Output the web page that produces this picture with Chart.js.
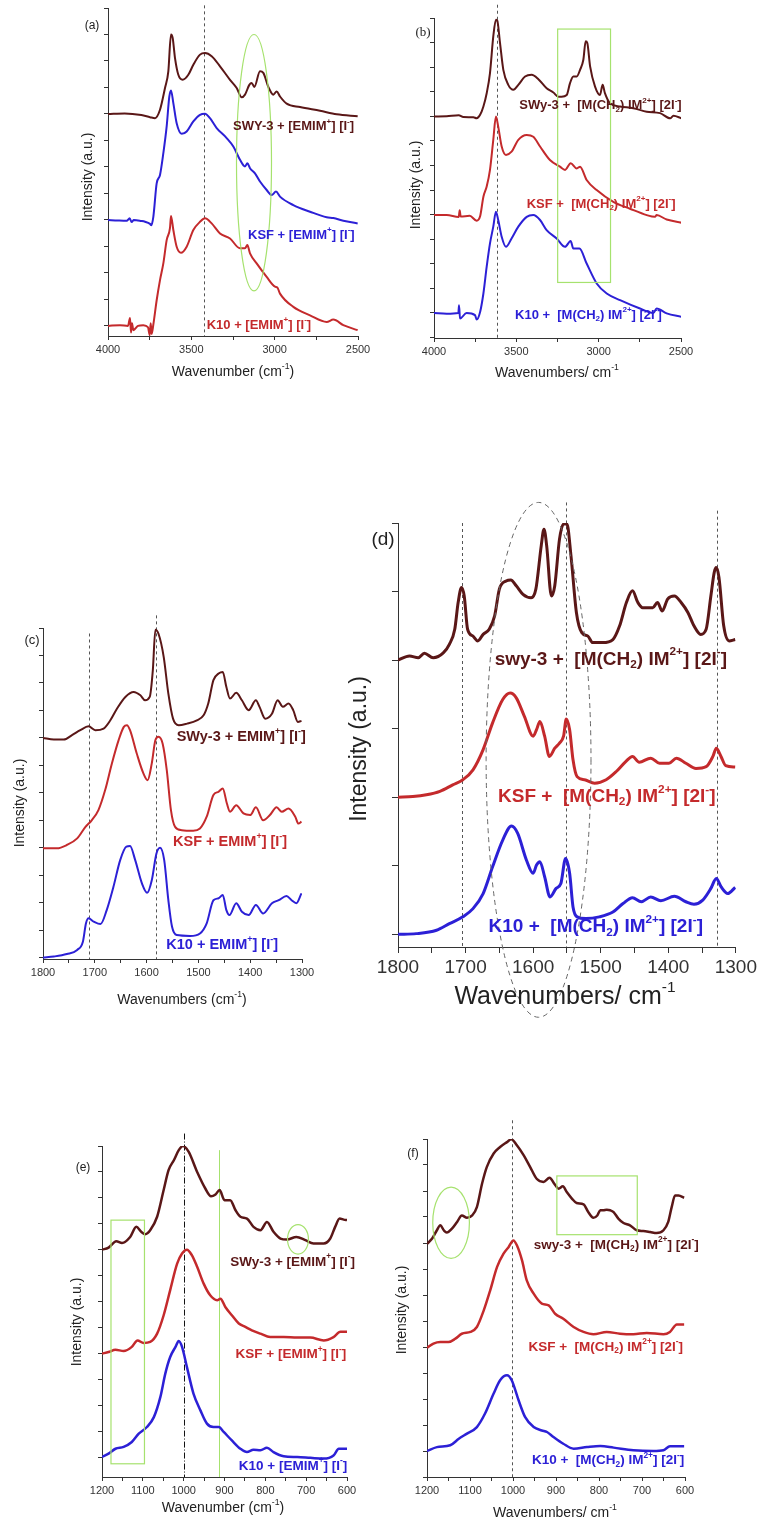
<!DOCTYPE html>
<html>
<head>
<meta charset="utf-8">
<script src="https://cdn.jsdelivr.net/npm/chart.js@4.4.1/dist/chart.umd.min.js"></script>
<style>
  html, body { margin: 0; padding: 0; background: #fff; }
  #page { position: relative; width: 762px; height: 1522px; overflow: hidden; }
  canvas { position: absolute; }
</style>
</head>
<body>
<div id="page"></div>
<script>
// ---- panel (a): 4000-2500 cm-1, EMIM ----
const aSwyX = [4000,3900,3800,3748,3718,3688,3658,3638,3622,3612,3598,3578,3552,3518,3488,3448,3418,3378,3328,3268,3228,3198,3178,3152,3138,3122,3088,3068,3038,3008,2988,2968,2928,2848,2728,2628,2502]
const aSwyY = [8.0,8.02,7.96,7.88,7.84,8.16,8.98,9.61,11.0,10.87,10.11,9.48,9.29,9.48,9.86,10.24,10.30,10.18,9.80,9.29,8.98,8.63,8.73,9.1,9.17,9.02,9.61,9.55,9.02,8.73,8.85,8.66,8.39,8.26,8.12,7.99,7.91]
const aKsfX = [4000,3940,3888,3870,3858,3845,3800,3778,3748,3740,3728,3708,3688,3668,3648,3632,3622,3608,3588,3558,3528,3488,3448,3418,3388,3348,3288,3248,3208,3178,3164,3148,3118,3088,3048,3018,2992,2968,2888,2788,2688,2648,2588,2502]
const aKsfY = [4.0,3.98,3.97,4.06,3.92,4.0,3.96,3.93,3.85,3.8,4.12,5.38,5.70,6.52,7.53,8.66,8.89,8.41,7.65,7.25,7.34,7.72,7.97,8.01,7.84,7.47,7.09,6.77,6.27,6.02,6.14,5.95,5.76,5.45,5.13,4.94,5.07,4.88,4.56,4.31,4.10,4.07,3.97,3.87]
const aK10X = [4000,3928,3880,3868,3862,3856,3848,3820,3788,3760,3750,3744,3738,3728,3708,3688,3668,3648,3628,3622,3608,3588,3562,3528,3488,3448,3418,3378,3328,3268,3208,3178,3164,3148,3108,3048,2998,2984,2968,2888,2788,2688,2648,2588,2502]
const aK10Y = [0,0.03,0,0.3,-0.25,0.1,-0.16,0,0.03,-0.05,-0.35,0.1,-0.3,0.05,0.97,1.73,2.36,3.24,3.7,4.15,3.62,2.99,2.76,2.99,3.62,3.93,4.06,3.87,3.49,3.30,2.93,2.93,3.05,2.74,2.36,1.85,1.48,1.45,1.22,0.72,0.40,0.15,0.24,0.03,-0.16]

// ---- panel (b): 4000-2500 cm-1, M(CH2)IM ----
const bSwyX = [4000,3923,3850,3822,3761,3741,3720,3700,3680,3660,3640,3624,3616,3599,3579,3549,3518,3488,3447,3407,3366,3316,3275,3245,3225,3194,3174,3154,3133,3113,3093,3079,3069,3052,3022,2992,2976,2962,2931,2870,2789,2708,2627,2566,2546,2497]
const bSwyY = [7.99,8.0,8.04,7.97,7.96,7.92,8.06,8.40,8.94,9.76,11.25,11.93,11.9,10.98,9.89,9.28,9.08,9.28,9.62,9.69,9.51,9.14,8.97,8.80,8.80,8.87,9.35,9.62,9.62,9.89,10.30,11.05,10.98,10.03,9.21,8.87,9.28,8.94,8.53,8.40,8.33,8.19,8.13,7.92,8.02,7.92]
const bKsfX = [4000,3923,3850,3844,3838,3783,3741,3720,3700,3680,3660,3640,3624,3610,3589,3563,3529,3488,3437,3397,3356,3296,3235,3204,3170,3133,3113,3073,3012,2911,2810,2708,2658,2648,2587,2497]
const bKsfY = [3.98,3.98,3.9,4.18,3.92,3.95,3.75,3.93,4.73,5.14,5.82,7.04,7.99,7.58,6.77,6.43,6.56,7.04,7.24,7.17,6.77,6.22,5.95,5.82,6.09,5.88,5.95,5.41,5.0,4.52,4.24,3.98,3.91,3.98,3.80,3.67]
const bK10X = [4000,3923,3852,3848,3842,3802,3751,3741,3720,3700,3680,3660,3640,3624,3610,3589,3563,3529,3488,3437,3397,3356,3316,3255,3204,3170,3154,3117,3073,3012,2951,2870,2749,2668,2648,2587,2497]
const bK10Y = [0,-0.03,0,0.31,-0.23,0,-0.09,-0.27,0.04,0.79,1.88,2.83,3.51,4.12,3.78,3.10,2.69,3.03,3.51,3.91,3.98,3.78,3.37,3.03,2.69,2.93,2.62,2.62,2.01,1.20,0.79,0.52,0.18,0,0.18,-0.02,-0.16]

// ---- panel (c): 1800-1300 cm-1, EMIM ----
const cSwyX = [1800,1779,1760,1744,1728,1712,1699,1683,1670,1657,1641,1625,1612,1603,1594,1588,1583,1577,1567,1558,1549,1538,1522,1503,1490,1481,1471,1461,1453,1446,1439,1427,1416,1403,1389,1382,1371,1358,1347,1337,1326,1317,1308,1301]
const cSwyY = [8.0,7.94,7.94,8.10,8.28,8.42,8.28,8.34,8.64,9.07,9.49,9.67,9.55,9.37,9.49,10.46,11.94,11.79,10.95,9.61,8.70,8.46,8.52,8.64,8.82,9.25,10.10,10.34,10.40,9.85,9.43,9.64,9.37,9.01,9.37,9.13,8.70,8.88,9.37,9.13,9.25,9.01,8.58,8.62]
const cKsfX = [1800,1773,1754,1734,1718,1706,1693,1680,1667,1654,1644,1638,1632,1619,1606,1598,1590,1583,1577,1569,1561,1553,1545,1532,1510,1497,1484,1471,1461,1453,1445,1439,1427,1413,1400,1389,1375,1362,1349,1339,1326,1313,1307,1301]
const cKsfY = [3.98,3.98,4.10,4.34,4.76,5.0,5.37,6.10,7.07,7.92,8.40,8.46,8.28,7.43,6.70,6.46,7.07,7.92,8.04,7.79,6.82,5.37,4.76,4.64,4.62,4.70,5.13,5.92,6.04,6.16,5.61,5.31,5.55,5.25,5.19,5.47,5.0,5.19,5.47,5.31,5.43,5.13,4.88,4.95]
const cK10X = [1800,1779,1754,1734,1723,1717,1712,1702,1689,1677,1664,1651,1639,1632,1622,1609,1599,1590,1581,1574,1566,1558,1551,1542,1516,1497,1484,1471,1461,1453,1446,1440,1427,1416,1403,1389,1375,1358,1345,1330,1320,1311,1301]
const cK10Y = [0,0.04,0.13,0.28,0.58,1.25,1.43,1.31,1.22,1.73,2.58,3.55,4.04,4.06,3.55,2.70,2.36,2.82,3.79,4.0,3.55,2.09,1.13,0.82,0.79,0.88,1.25,2.09,2.16,2.28,1.73,1.55,1.98,1.67,1.55,1.92,1.61,1.98,2.09,2.24,2.09,1.98,2.34]

// ---- panel (d): 1800-1300 cm-1, M(CH2)IM ----
const dSwyX = [1800,1783,1770,1761,1748,1733,1724,1716,1711,1706,1702,1697,1689,1682,1674,1665,1657,1650,1640,1633,1625,1615,1603,1596,1588,1584,1580,1573,1568,1561,1555,1550,1544,1536,1528,1519,1512,1497,1482,1472,1462,1453,1445,1438,1423,1416,1409,1401,1391,1381,1371,1362,1352,1344,1337,1332,1329,1325,1318,1310,1301]
const dSwyY = [8.0,8.12,8.07,8.20,8.07,8.21,8.46,8.90,9.68,10.12,9.87,8.90,8.70,8.56,8.75,8.90,9.29,10.07,10.31,10.34,10.17,9.92,9.82,10.07,11.34,11.82,11.34,9.87,10.17,11.53,11.97,11.97,11.04,9.39,8.80,8.70,8.51,8.51,8.60,9.0,9.68,10.02,9.68,9.53,9.53,9.68,9.43,9.78,9.87,9.68,9.39,9.0,8.75,8.90,9.87,10.56,10.70,10.41,9.0,8.56,8.60]
const dKsfX = [1800,1778,1758,1738,1719,1704,1689,1674,1660,1645,1634,1625,1613,1600,1595,1590,1583,1576,1568,1561,1555,1551,1546,1541,1535,1524,1509,1492,1477,1463,1453,1443,1426,1413,1399,1388,1374,1359,1344,1334,1329,1322,1315,1301]
const dKsfY = [4.0,4.02,4.07,4.17,4.36,4.51,4.80,5.39,6.17,6.85,7.04,6.90,6.36,5.78,5.97,6.21,5.78,5.19,5.43,5.58,5.78,6.28,5.97,5.09,4.60,4.51,4.41,4.51,4.75,5.04,5.19,5.02,5.14,4.99,4.99,5.14,4.99,4.84,4.89,5.19,5.43,5.19,4.92,4.88]
const dK10X = [1800,1773,1743,1724,1704,1689,1674,1660,1645,1632,1623,1610,1600,1595,1590,1583,1575,1566,1559,1552,1546,1541,1535,1522,1502,1482,1467,1453,1440,1426,1411,1391,1374,1362,1349,1337,1329,1322,1312,1301]
const dK10Y = [0,0.02,0.12,0.31,0.51,0.75,1.19,1.97,2.75,3.16,2.95,2.17,1.78,2.02,2.12,1.68,1.09,1.34,1.48,2.21,1.78,0.80,0.51,0.46,0.51,0.65,0.90,1.07,0.95,1.09,0.98,1.11,0.95,0.88,1.0,1.34,1.63,1.39,1.19,1.37]

// ---- panel (e): 1200-600 cm-1, EMIM ----
const eSwyX = [1200,1184,1165,1151,1131,1116,1104,1094,1082,1065,1049,1037,1024,1012,1002,988,967,947,933,922,912,900,886,873,861,845,829,812,796,780,763,747,724,702,682,657,641,629,618,608,600]
const eSwyY = [8.0,8.08,8.33,8.26,8.49,8.88,8.69,8.60,8.75,9.27,10.30,11.07,11.45,11.84,12.0,11.78,11.0,10.36,10.06,10.13,10.30,9.91,9.91,9.52,9.27,9.20,8.88,8.75,9.07,8.69,8.43,8.39,8.49,8.37,8.24,8.24,8.43,8.88,9.20,9.16,9.14]
const eKsfX = [1200,1184,1167,1147,1127,1113,1098,1082,1065,1049,1033,1016,1004,992,980,967,951,935,918,910,898,882,865,849,833,812,788,755,722,690,657,633,616,600]
const eKsfY = [3.99,4.05,4.14,4.09,4.25,4.50,4.40,4.44,4.76,5.47,6.44,7.46,7.85,8.0,7.79,7.34,6.69,6.24,6.05,6.11,5.79,5.47,5.15,5.02,4.89,4.76,4.63,4.63,4.61,4.61,4.50,4.63,4.83,4.83]
const eK10X = [1200,1184,1167,1147,1127,1110,1090,1073,1057,1045,1033,1020,1012,1004,992,976,959,943,927,914,902,882,861,845,829,812,796,780,755,722,690,657,633,620,600]
const eK10Y = [0,0.13,0.32,0.39,0.58,0.90,1.16,1.54,2.32,3.22,3.86,4.25,4.48,4.25,3.47,2.45,1.80,1.29,1.16,1.16,0.97,0.64,0.32,0.19,0.28,0.26,0.36,0.19,0.03,0,-0.03,-0.06,0.06,0.32,0.32]

// ---- panel (f): 1200-600 cm-1, M(CH2)IM ----
const fSwyX = [1200,1188,1177,1169,1161,1154,1142,1130,1119,1107,1095,1084,1072,1061,1045,1030,1014,1004,991,975,960,945,929,915,904,894,884,875,863,852,836,825,813,804,797,790,782,774,766,755,743,728,712,697,681,666,650,639,631,623,615,602]
const fSwyY = [7.97,8.17,8.49,8.68,8.49,8.40,8.55,8.81,9.06,8.97,9.06,9.38,10.28,10.92,11.44,11.69,11.88,11.99,11.76,11.37,10.92,10.47,10.35,10.51,10.28,10.09,10.18,9.96,9.71,9.54,9.49,9.19,8.97,9.06,9.26,9.26,9.28,9.26,9.19,8.94,8.77,8.68,8.49,8.46,8.42,8.38,8.49,8.81,9.38,9.83,9.83,9.74]
const fKsfX = [1200,1185,1169,1150,1134,1119,1099,1084,1068,1053,1037,1022,1010,999,991,979,968,952,933,917,902,883,859,836,813,782,751,720,689,650,635,619,602]
const fKsfY = [3.97,4.13,4.19,4.19,4.32,4.51,4.58,4.77,5.41,6.18,7.08,7.59,7.85,8.10,7.91,7.33,6.56,6.05,5.67,5.60,5.28,5.09,4.77,4.58,4.49,4.58,4.51,4.49,4.54,4.49,4.58,4.87,4.87]
const fK10X = [1200,1177,1146,1126,1107,1084,1065,1045,1030,1014,1003,987,972,952,933,921,906,883,859,828,797,766,720,674,650,635,602]
const fK10Y = [0,0.15,0.22,0.47,0.67,0.92,1.44,2.21,2.72,2.91,2.72,1.95,1.31,0.92,0.79,0.73,0.54,0.28,0.09,0.15,0.19,0.13,0.03,0,0.03,0.18,0.18]

const SANS = '"Liberation Sans", Arial, Helvetica, sans-serif'
const SERIF = '"Liberation Serif", "Times New Roman", serif'
const BROWN = '#5a1717', RED = '#c42a2c', BLUE = '#2c20d6'
const GREEN = '#a6e26e', GREY = '#555', AXIS = '#333'

const EMIM = ' + [EMIM^{+}] [I^{-}]'
const MIM = ' +  [M(CH_{2}) IM^{2+}] [2I^{-}]'

// text with ^{..} superscripts and _{..} subscripts
function parseRich(s) {
    const out = []
    const re = /(\^|_)\{([^}]*)\}/g
    let last = 0, m
    while ((m = re.exec(s))) {
        if (m.index > last) out.push({ t: s.slice(last, m.index), mode: 0 })
        out.push({ t: m[2], mode: m[1] === '^' ? 1 : -1 })
        last = re.lastIndex
    }
    if (last < s.length) out.push({ t: s.slice(last), mode: 0 })
    return out
}

function drawRich(ctx, s, x, y, size, weight, color, align) {
    const segs = parseRich(s)
    const font = sz => weight + ' ' + sz + 'px ' + SANS
    let w = 0
    segs.forEach(g => {
        ctx.font = font(g.mode ? size * 0.62 : size)
        g.w = ctx.measureText(g.t).width
        w += g.w
    })
    let cx = align === 'center' ? x - w / 2 : x
    ctx.fillStyle = color
    ctx.textAlign = 'left'
    ctx.textBaseline = 'middle'
    segs.forEach(g => {
        ctx.font = font(g.mode ? size * 0.62 : size)
        const dy = g.mode === 1 ? -size * 0.38 : (g.mode === -1 ? size * 0.3 : 0)
        ctx.fillText(g.t, cx, y + dy)
        cx += g.w
    })
}

function annotations(p) {
    return {
        id: 'annot_' + p.id,
        beforeDatasetsDraw(chart) {
            const ctx = chart.ctx, area = chart.chartArea
            const X = v => chart.scales.x.getPixelForValue(v)
            const Y = v => chart.scales.y.getPixelForValue(v)
            ctx.save()
            ;(p.vlines || []).forEach(l => {
                ctx.beginPath()
                ctx.setLineDash(l.dash || [3, 3])
                ctx.strokeStyle = l.color || GREY
                ctx.lineWidth = 1
                const x = Math.round(X(l.x)) + 0.5
                ctx.moveTo(x, Y(l.top))
                ctx.lineTo(x, area.bottom)
                ctx.stroke()
            })
            ctx.restore()
        },
        afterDraw(chart) {
            const ctx = chart.ctx
            const X = v => chart.scales.x.getPixelForValue(v)
            const Y = v => chart.scales.y.getPixelForValue(v)
            const ox = p.canvas.x, oy = p.canvas.y
            ctx.save()
            ;(p.rects || []).forEach(r => {
                ctx.setLineDash([])
                ctx.strokeStyle = GREEN
                ctx.lineWidth = 1.2
                ctx.strokeRect(X(r.x1), Y(r.y1), X(r.x2) - X(r.x1), Y(r.y2) - Y(r.y1))
            })
            ;(p.ellipses || []).forEach(e => {
                ctx.beginPath()
                ctx.setLineDash(e.dash || [])
                ctx.strokeStyle = e.color || GREEN
                ctx.lineWidth = e.width || 1.2
                ctx.ellipse(X(e.cx), Y(e.cy), Math.abs(X(e.cx + e.rx) - X(e.cx)),
                    Math.abs(Y(e.cy + e.ry) - Y(e.cy)), 0, 0, Math.PI * 2)
                ctx.stroke()
            })
            ctx.setLineDash([])
            p.labels.forEach(l => drawRich(ctx, l.t, X(l.x), Y(l.y), p.labelSize, 'bold', l.c, 'left'))

            // panel letter
            ctx.fillStyle = '#222'
            ctx.textAlign = 'center'
            ctx.textBaseline = 'middle'
            ctx.font = p.letter.size + 'px ' + (p.letter.serif ? SERIF : SANS)
            ctx.fillText(p.letter.t, p.letter.x - ox, p.letter.y - oy)

            // axis titles
            ctx.save()
            ctx.translate(p.yTitle.x - ox, p.yTitle.y - oy)
            ctx.rotate(-Math.PI / 2)
            ctx.font = p.yTitle.size + 'px ' + SANS
            ctx.fillText('Intensity (a.u.)', 0, 0)
            ctx.restore()
            drawRich(ctx, p.xTitle.t, p.xTitle.x - ox, p.xTitle.y - oy, p.xTitle.size, 'normal', '#222', 'center')
            ctx.restore()
        }
    }
}

function makePanel(p) {
    const c = p.canvas
    const cv = document.createElement('canvas')
    cv.width = c.w
    cv.height = c.h
    cv.style.left = c.x + 'px'
    cv.style.top = c.y + 'px'
    cv.style.width = c.w + 'px'
    cv.style.height = c.h + 'px'
    document.getElementById('page').appendChild(cv)

    const yW = p.box.l - c.x
    const padT = p.box.t - c.y
    const padR = c.x + c.w - p.box.r
    const xH = c.y + c.h - p.box.b

    const datasets = p.series.map(s => ({
        data: s.x.map((x, i) => ({ x: x, y: s.y[i] })),
        borderColor: s.color,
        borderWidth: p.lw,
        pointRadius: 0,
        fill: false,
        cubicInterpolationMode: 'monotone'
    }))

    return new Chart(cv, {
        type: 'line',
        data: { datasets: datasets },
        options: {
            responsive: false,
            animation: false,
            devicePixelRatio: 1,
            layout: { padding: { left: 0, top: padT, right: padR, bottom: 0 } },
            plugins: { legend: { display: false }, tooltip: { enabled: false } },
            scales: {
                x: {
                    type: 'linear', reverse: true, min: p.xMin, max: p.xMax,
                    border: { display: true, color: AXIS, width: 1 },
                    grid: { drawOnChartArea: false, drawTicks: true, tickLength: p.tickLen, color: AXIS },
                    ticks: {
                        stepSize: p.xStep, autoSkip: false, maxRotation: 0, minRotation: 0,
                        includeBounds: false, padding: 3, color: '#333',
                        font: { family: SANS, size: p.tickSize },
                        callback: v => (Math.round(v) % p.xLabelStep === 0 ? String(Math.round(v)) : '')
                    },
                    afterFit: s => { s.height = xH }
                },
                y: {
                    type: 'linear', min: p.yMin, max: p.yMax,
                    border: { display: true, color: AXIS, width: 1 },
                    grid: { drawOnChartArea: false, drawTicks: true, tickLength: p.tickLen, color: AXIS },
                    ticks: { display: false, stepSize: p.yStep, includeBounds: false },
                    afterFit: s => { s.width = yW }
                }
            }
        },
        plugins: [annotations(p)]
    })
}

const panels = [
    {
        id: 'a', canvas: { x: 50, y: 0, w: 355, h: 395 }, box: { l: 108, r: 358, t: 8, b: 336 },
        xMin: 2500, xMax: 4000, xStep: 250, xLabelStep: 500, yMin: -0.38, yMax: 12, yStep: 1,
        lw: 2, tickLen: 4, tickSize: 11, labelSize: 13,
        series: [
            { x: aSwyX, y: aSwyY, color: BROWN },
            { x: aKsfX, y: aKsfY, color: BLUE },
            { x: aK10X, y: aK10Y, color: RED }
        ],
        vlines: [{ x: 3425, top: 12.1 }],
        ellipses: [{ cx: 3124, cy: 6.16, rx: 105, ry: 4.84 }],
        labels: [
            { t: 'SWY-3' + EMIM, x: 3250, y: 7.52, c: BROWN },
            { t: 'KSF' + EMIM, x: 3160, y: 3.43, c: BLUE },
            { t: 'K10' + EMIM, x: 3408, y: 0.03, c: RED }
        ],
        letter: { t: '(a)', x: 92, y: 26, size: 12 },
        yTitle: { x: 88, y: 177, size: 14 },
        xTitle: { t: 'Wavenumber (cm^{-1})', x: 233, y: 372, size: 14 }
    },
    {
        id: 'b', canvas: { x: 395, y: 0, w: 320, h: 395 }, box: { l: 434, r: 681, t: 18, b: 338 },
        xMin: 2500, xMax: 4000, xStep: 250, xLabelStep: 500, yMin: -1.02, yMax: 12, yStep: 1,
        lw: 2, tickLen: 4, tickSize: 11, labelSize: 13,
        series: [
            { x: bSwyX, y: bSwyY, color: BROWN },
            { x: bKsfX, y: bKsfY, color: RED },
            { x: bK10X, y: bK10Y, color: BLUE }
        ],
        vlines: [{ x: 3620, top: 12.54 }],
        rects: [{ x1: 3249, x2: 2928, y1: 11.55, y2: 1.24 }],
        labels: [
            { t: 'SWy-3' + MIM, x: 3482, y: 8.43, c: BROWN },
            { t: 'KSF' + MIM, x: 3437, y: 4.43, c: RED },
            { t: 'K10' + MIM, x: 3508, y: -0.09, c: BLUE }
        ],
        letter: { t: '(b)', x: 423, y: 33, size: 13, serif: true },
        yTitle: { x: 416, y: 185, size: 14 },
        xTitle: { t: 'Wavenumbers/ cm^{-1}', x: 557, y: 373, size: 14 }
    },
    {
        id: 'c', canvas: { x: 0, y: 600, w: 330, h: 420 }, box: { l: 43, r: 302, t: 628, b: 959 },
        xMin: 1300, xMax: 1800, xStep: 50, xLabelStep: 100, yMin: -0.05, yMax: 12, yStep: 1,
        lw: 2, tickLen: 4, tickSize: 11, labelSize: 14.5,
        series: [
            { x: cSwyX, y: cSwyY, color: BROWN },
            { x: cKsfX, y: cKsfY, color: RED },
            { x: cK10X, y: cK10Y, color: BLUE }
        ],
        vlines: [{ x: 1712, top: 11.8 }, { x: 1582, top: 12.46 }],
        labels: [
            { t: 'SWy-3 + EMIM^{+}] [I^{-}]', x: 1542, y: 8.04, c: BROWN },
            { t: 'KSF + EMIM^{+}] [I^{-}]', x: 1549, y: 4.22, c: RED },
            { t: 'K10 + EMIM^{+}] [I^{-}]', x: 1562, y: 0.46, c: BLUE }
        ],
        letter: { t: '(c)', x: 32, y: 640, size: 13 },
        yTitle: { x: 20, y: 803, size: 14 },
        xTitle: { t: 'Wavenumbers (cm^{-1})', x: 182, y: 1000, size: 14 }
    },
    {
        id: 'd', canvas: { x: 340, y: 480, w: 420, h: 540 }, box: { l: 398, r: 737, t: 523, b: 947 },
        xMin: 1300, xMax: 1800, xStep: 50, xLabelStep: 100, yMin: -0.37, yMax: 12, yStep: 2,
        lw: 3, tickLen: 6, tickSize: 19, labelSize: 19,
        series: [
            { x: dSwyX, y: dSwyY, color: BROWN },
            { x: dKsfX, y: dKsfY, color: RED },
            { x: dK10X, y: dK10Y, color: BLUE }
        ],
        vlines: [{ x: 1706, top: 12.0 }, { x: 1552, top: 12.6 }, { x: 1328, top: 12.36 }],
        ellipses: [{ cx: 1592, cy: 5.09, rx: 77.6, ry: 7.51, color: '#666', dash: [5, 4], width: 1 }],
        labels: [
            { t: 'swy-3' + MIM, x: 1657, y: 8.02, c: BROWN },
            { t: 'KSF' + MIM, x: 1652, y: 4.02, c: RED },
            { t: 'K10' + MIM, x: 1666, y: 0.21, c: BLUE }
        ],
        letter: { t: '(d)', x: 383, y: 540, size: 19 },
        yTitle: { x: 360, y: 749, size: 23 },
        xTitle: { t: 'Wavenumbers/ cm^{-1}', x: 565, y: 997, size: 25 }
    },
    {
        id: 'e', canvas: { x: 50, y: 1110, w: 330, h: 412 }, box: { l: 102, r: 347, t: 1146, b: 1477 },
        xMin: 600, xMax: 1200, xStep: 50, xLabelStep: 100, yMin: -0.77, yMax: 12, yStep: 1,
        lw: 2.5, tickLen: 4, tickSize: 11, labelSize: 13.5,
        series: [
            { x: eSwyX, y: eSwyY, color: BROWN },
            { x: eKsfX, y: eKsfY, color: RED },
            { x: eK10X, y: eK10Y, color: BLUE }
        ],
        vlines: [
            { x: 1000, top: 12.48, color: '#111', dash: [6, 2, 1, 2] },
            { x: 913, top: 11.84, color: GREEN, dash: [] }
        ],
        rects: [{ x1: 1178, x2: 1096, y1: 9.14, y2: -0.26 }],
        ellipses: [{ cx: 720, cy: 8.40, rx: 25.7, ry: 0.57 }],
        labels: [
            { t: 'SWy-3' + EMIM, x: 886, y: 7.53, c: BROWN },
            { t: 'KSF' + EMIM, x: 873, y: 3.96, c: RED },
            { t: 'K10' + EMIM, x: 865, y: -0.35, c: BLUE }
        ],
        letter: { t: '(e)', x: 83, y: 1168, size: 12 },
        yTitle: { x: 77, y: 1322, size: 14 },
        xTitle: { t: 'Wavenumber (cm^{-1})', x: 223, y: 1508, size: 14 }
    },
    {
        id: 'f', canvas: { x: 390, y: 1100, w: 350, h: 422 }, box: { l: 427, r: 685, t: 1139, b: 1477 },
        xMin: 600, xMax: 1200, xStep: 50, xLabelStep: 100, yMin: -1.0, yMax: 12, yStep: 1,
        lw: 2.5, tickLen: 4, tickSize: 11, labelSize: 13.5,
        series: [
            { x: fSwyX, y: fSwyY, color: BROWN },
            { x: fKsfX, y: fKsfY, color: RED },
            { x: fK10X, y: fK10Y, color: BLUE }
        ],
        vlines: [{ x: 1003, top: 12.72 }],
        ellipses: [{ cx: 1144, cy: 8.78, rx: 42.6, ry: 1.37 }],
        rects: [{ x1: 898, x2: 711, y1: 10.58, y2: 8.32 }],
        labels: [
            { t: 'swy-3' + MIM, x: 952, y: 7.93, c: BROWN },
            { t: 'KSF' + MIM, x: 964, y: 4.0, c: RED },
            { t: 'K10' + MIM, x: 956, y: -0.36, c: BLUE }
        ],
        letter: { t: '(f)', x: 413, y: 1154, size: 12 },
        yTitle: { x: 402, y: 1310, size: 14 },
        xTitle: { t: 'Wavenumbers/ cm^{-1}', x: 555, y: 1513, size: 14 }
    }
]

panels.forEach(makePanel)
</script>
</body>
</html>
